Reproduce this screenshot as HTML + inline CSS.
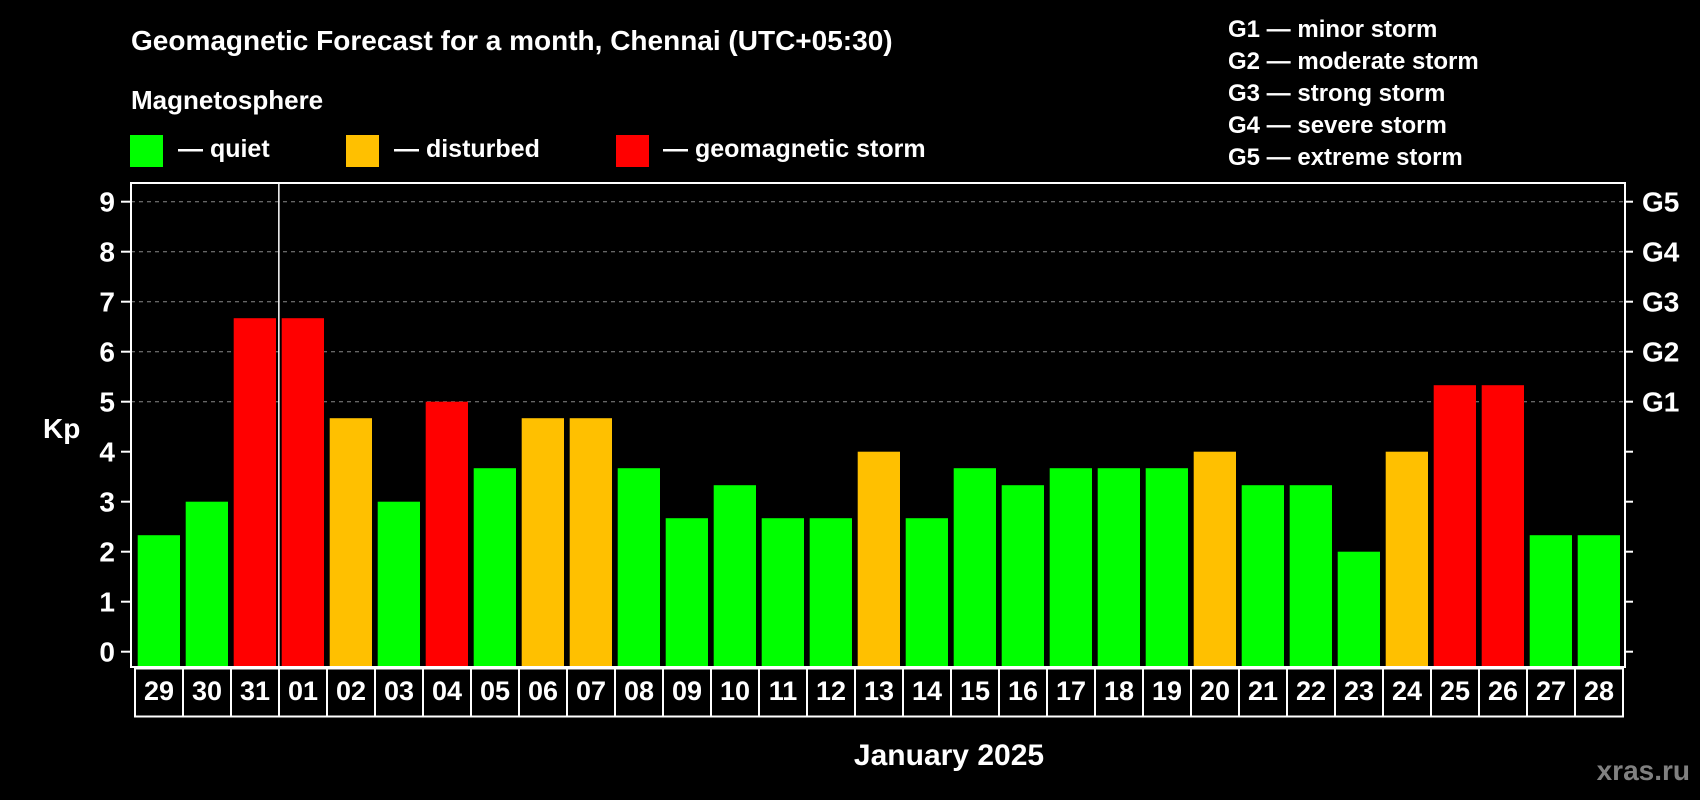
<!DOCTYPE html>
<html><head><meta charset="utf-8"><style>
html,body{margin:0;padding:0;background:#000;}
svg{display:block;font-family:"Liberation Sans",Arial,sans-serif;font-weight:bold;}
</style></head><body>
<svg id="chart" width="1700" height="800" viewBox="0 0 1700 800" xmlns="http://www.w3.org/2000/svg">
<rect width="1700" height="800" fill="#000"/>
<text x="131" y="50" fill="#fff" font-size="28">Geomagnetic Forecast for a month, Chennai (UTC+05:30)</text>
<text x="131" y="109" fill="#fff" font-size="26">Magnetosphere</text>
<g><rect x="130" y="135" width="33" height="32" fill="#00ff00"/><text x="178" y="157" fill="#fff" font-size="25">— quiet</text></g>
<g><rect x="346" y="135" width="33" height="32" fill="#ffc000"/><text x="394" y="157" fill="#fff" font-size="25">— disturbed</text></g>
<g><rect x="616" y="135" width="33" height="32" fill="#ff0000"/><text x="663" y="157" fill="#fff" font-size="25">— geomagnetic storm</text></g>
<g fill="#fff" font-size="24">
<text x="1228" y="37">G1 — minor storm</text>
<text x="1228" y="69">G2 — moderate storm</text>
<text x="1228" y="101">G3 — strong storm</text>
<text x="1228" y="133">G4 — severe storm</text>
<text x="1228" y="165">G5 — extreme storm</text>
</g>
<g id="grid"></g>
<g id="bars"></g>
<g id="axes"></g>
<text x="43" y="438" fill="#fff" font-size="28">Kp</text>
<text x="949" y="765" fill="#fff" font-size="30" text-anchor="middle">January 2025</text>
<text x="1690" y="780" fill="#808080" font-size="28" text-anchor="end">xras.ru</text>
</svg>
<script>
const days = ["29","30","31","01","02","03","04","05","06","07","08","09","10","11","12","13","14","15","16","17","18","19","20","21","22","23","24","25","26","27","28"];
const kpValues = [2.33,3,6.67,6.67,4.67,3,5,3.67,4.67,4.67,3.67,2.67,3.33,2.67,2.67,4,2.67,3.67,3.33,3.67,3.67,3.67,4,3.33,3.33,2,4,5.33,5.33,2.33,2.33];
const yTicks = [0,1,2,3,4,5,6,7,8,9];
const gLabels = ["G1","G2","G3","G4","G5"];
const gLevels = [5,6,7,8,9];
const monthStartIndex = 3;

const NS = "http://www.w3.org/2000/svg";
const plotL = 131, plotR = 1625, plotT = 183, plotB = 667;
const y0 = 651.7, unit = 50;
const barX0 = 137.7, pitch = 48, barW = 42.3;
function yScale(v){ return y0 - v*unit; }
function xScale(i){ return barX0 + i*pitch; }
function mk(tag, attrs, parent){ const e=document.createElementNS(NS,tag); for(const k in attrs) e.setAttribute(k,attrs[k]); parent.appendChild(e); return e; }
function color(v){ return v>=5 ? "#ff0000" : (v>=4 ? "#ffc000" : "#00ff00"); }

const grid = document.getElementById("grid");
const bars = document.getElementById("bars");
const axes = document.getElementById("axes");

gLevels.forEach((lv,i)=>{
  const l = mk("line",{x1:plotL,x2:plotR,y1:yScale(lv),y2:yScale(lv),stroke:"#888","stroke-width":1,"stroke-dasharray":"4,4"},grid);
  
  
  const t = mk("text",{x:1642,y:yScale(lv)+10,fill:"#fff","font-size":28},axes);
  t.textContent = gLabels[i];
  
  
});

kpValues.forEach((v,i)=>{
  const r = mk("rect",{x:xScale(i),y:yScale(v),width:barW,height:plotB-yScale(v),fill:color(v)},bars);
  
  
  const c = mk("rect",{x:135+i*pitch,y:plotB+1.5,width:pitch,height:48,fill:"none",stroke:"#fff","stroke-width":2},axes);
  
  
  const t = mk("text",{x:135+i*pitch+pitch/2,y:700,fill:"#fff","font-size":27,"text-anchor":"middle"},axes);
  t.textContent = days[i];
  
  
});

const frame = mk("rect",{x:plotL,y:plotT,width:plotR-plotL,height:plotB-plotT,fill:"none",stroke:"#fff","stroke-width":2},axes);


const msx = (xScale(monthStartIndex-1)+barW + xScale(monthStartIndex))/2;
const ml = mk("line",{x1:msx,x2:msx,y1:plotT,y2:plotB,stroke:"#fff","stroke-width":1.5},axes);



yTicks.forEach(v=>{
  const tk = mk("line",{x1:121,x2:plotL,y1:yScale(v),y2:yScale(v),stroke:"#fff","stroke-width":2},axes);
  
  
  const tr = mk("line",{x1:plotR,x2:1633,y1:yScale(v),y2:yScale(v),stroke:"#fff","stroke-width":2},axes);
  
  
  const t = mk("text",{x:115,y:yScale(v)+10,fill:"#fff","font-size":28,"text-anchor":"end"},axes);
  t.textContent = String(v);
  
  
});
</script>
</body></html>
